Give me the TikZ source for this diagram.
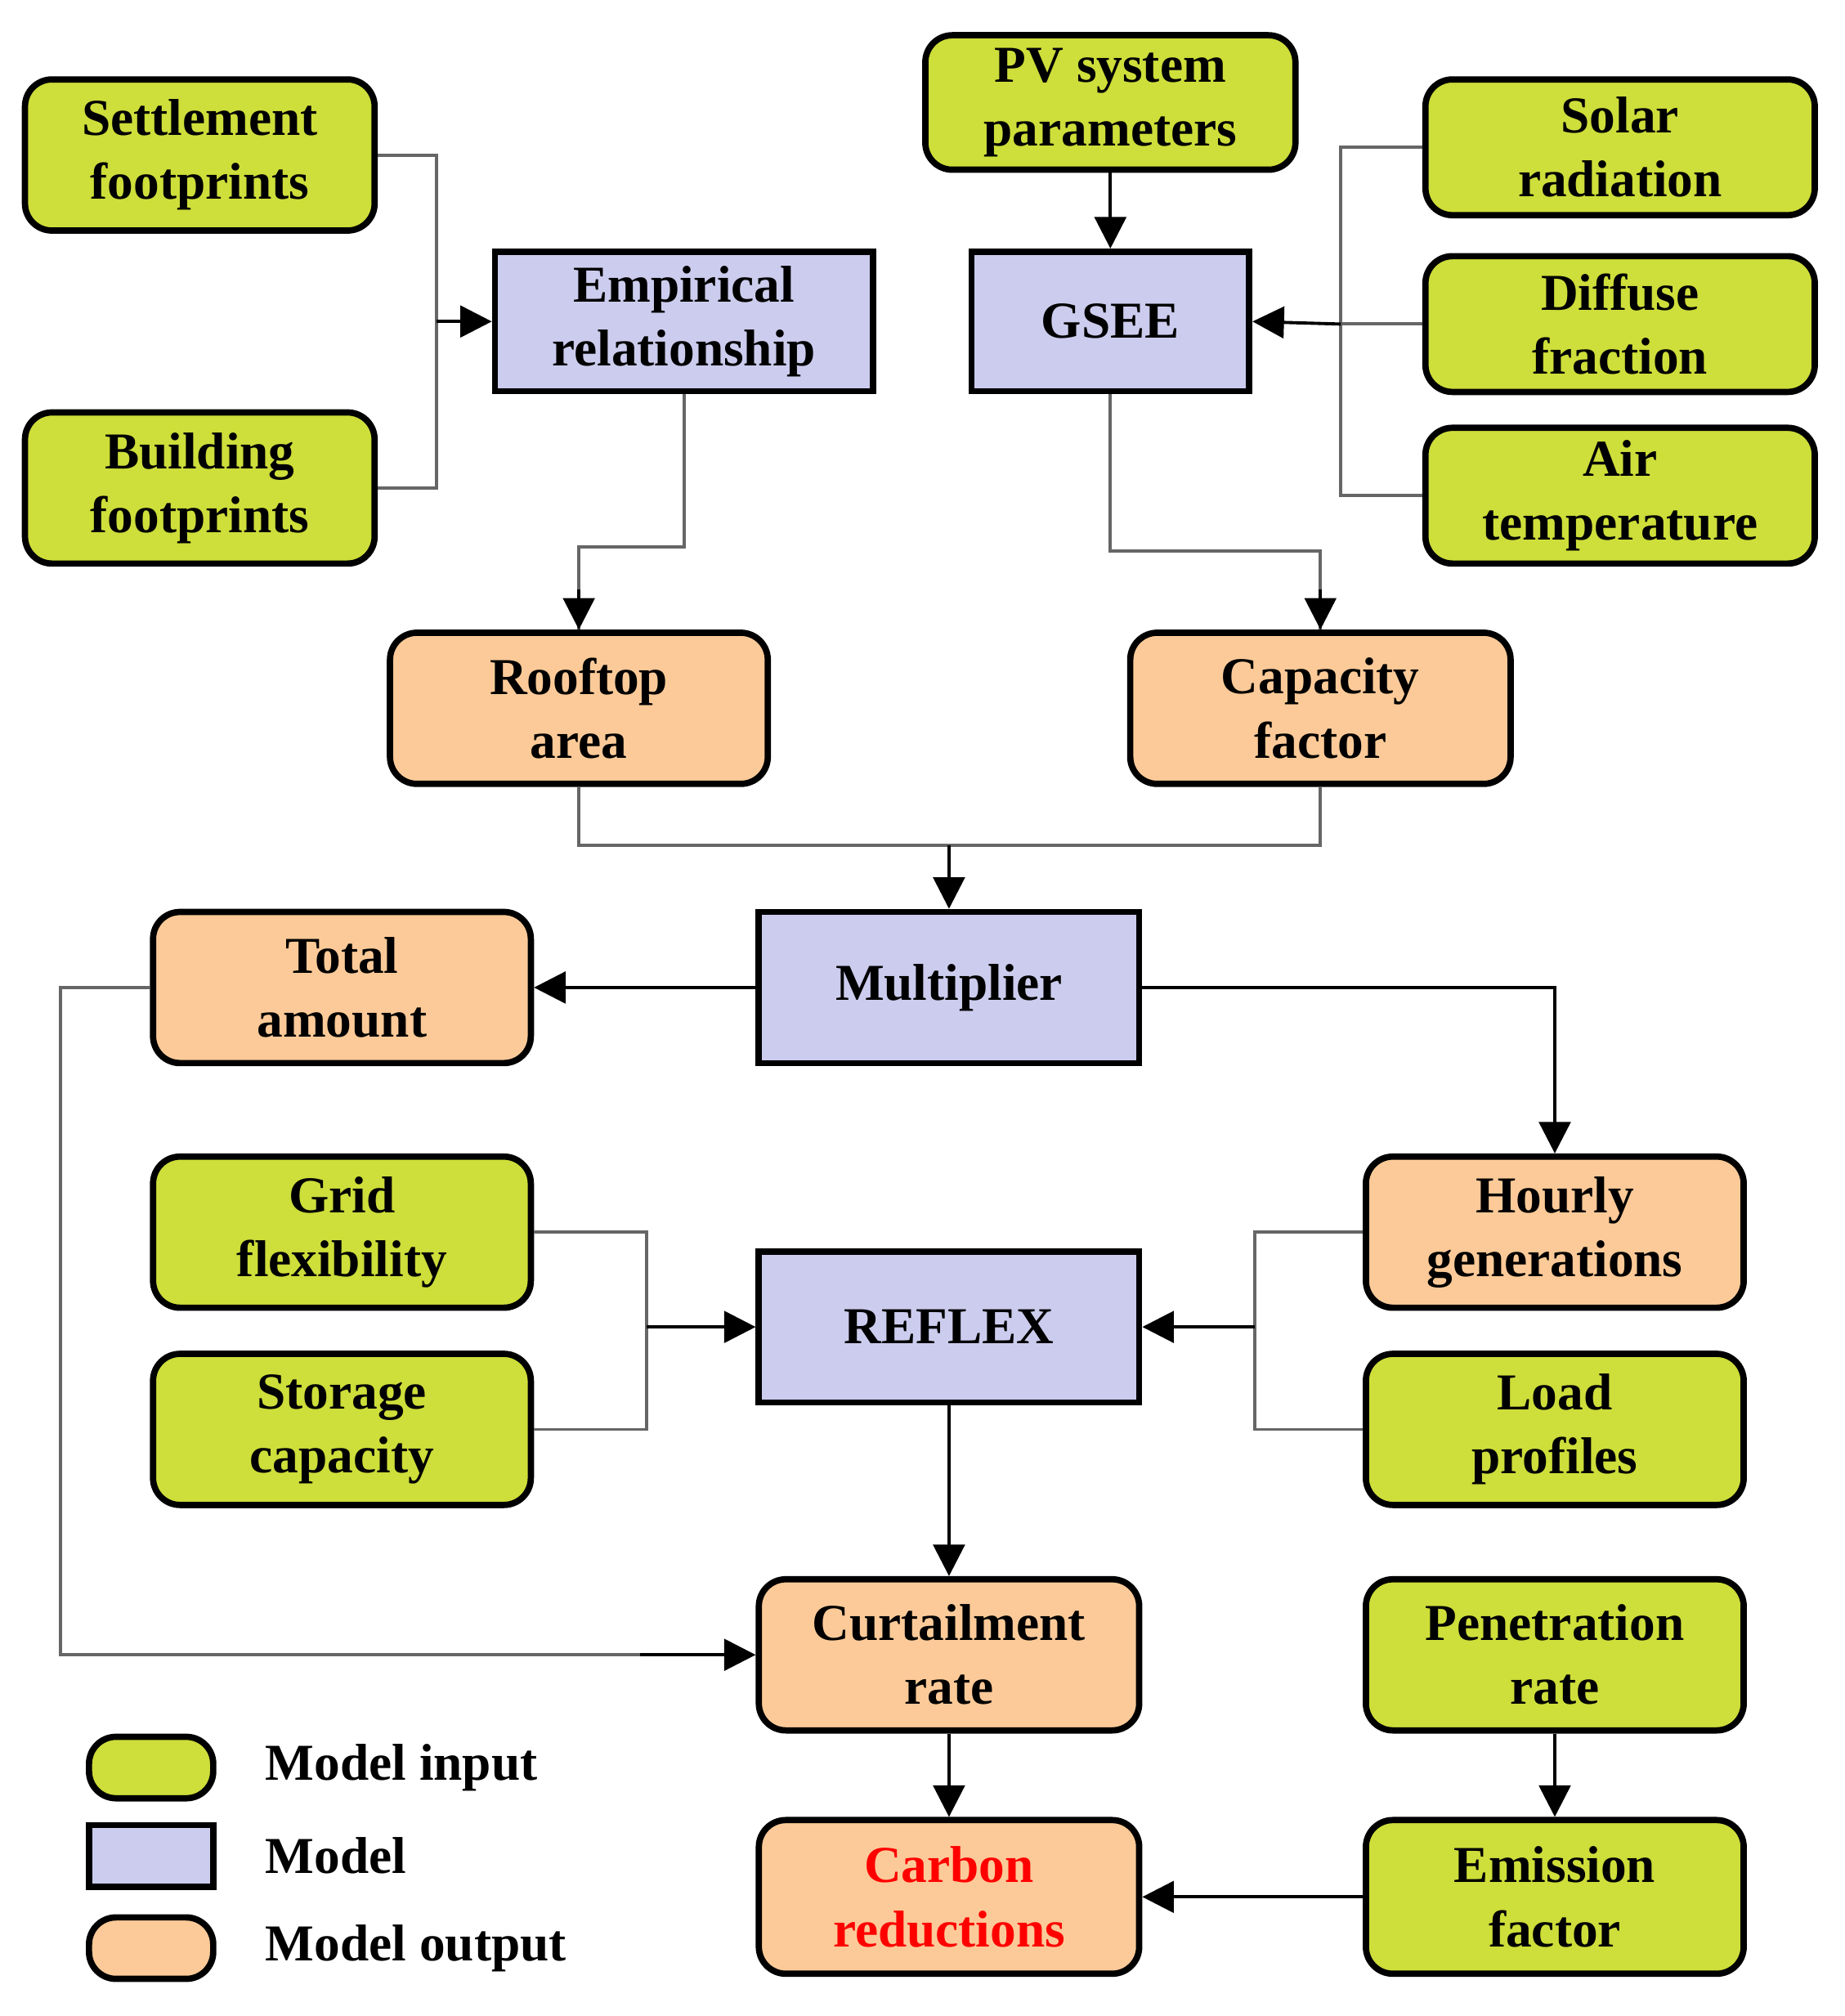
\documentclass[tikz,border=0pt]{standalone}
\usepackage{fontspec}
\setmainfont{Liberation Serif}
\usetikzlibrary{arrows.meta}
\definecolor{ingreen}{RGB}{206,222,58}
\definecolor{modblue}{RGB}{204,204,238}
\definecolor{outorange}{RGB}{252,202,152}
\tikzset{
  box/.style={draw=black, line width=1.4pt, align=center, inner sep=0pt,
    font=\fontsize{11.5}{14.2}\selectfont\bfseries},
  input/.style={box, fill=ingreen, rounded corners=6pt},
  model/.style={box, fill=modblue},
  output/.style={box, fill=outorange, rounded corners=6pt},
  feed/.style={draw=gray!80!black, line width=0.7pt},
  arr/.style={draw=black, line width=0.7pt, -{Triangle[length=7pt,width=7pt]}},
}
\begin{document}
\begin{tikzpicture}[x=0.1mm,y=-0.1mm]
  \useasboundingbox (0,0) rectangle (1440,1574);

  % inputs at the top
  \node[input, minimum width=27.3mm, minimum height=11.8mm] (settle) at (156,121) {Settlement\\footprints};
  \node[input, minimum width=27.3mm, minimum height=11.8mm] (build) at (156,381) {Building\\footprints};
  \node[input, minimum width=28.9mm, minimum height=10.5mm] (pv) at (867,80) {PV system\\parameters};
  \node[input, minimum width=30.4mm, minimum height=10.6mm] (solar) at (1265,115) {Solar\\radiation};
  \node[input, minimum width=30.4mm, minimum height=10.6mm] (diffuse) at (1265,253) {Diffuse\\fraction};
  \node[input, minimum width=30.4mm, minimum height=10.6mm] (air) at (1265,387) {Air\\temperature};

  % models
  \node[model, minimum width=29.5mm, minimum height=10.9mm] (empir) at (534,251) {Empirical\\relationship};
  \node[model, minimum width=21.7mm, minimum height=10.9mm] (gsee) at (867,251) {GSEE};
  \node[model, minimum width=29.7mm, minimum height=11.8mm] (mult) at (741,771) {Multiplier};
  \node[model, minimum width=29.7mm, minimum height=11.8mm] (reflex) at (741,1036) {REFLEX};

  % outputs
  \node[output, minimum width=29.5mm, minimum height=11.8mm] (roof) at (452,553) {Rooftop\\area};
  \node[output, minimum width=29.7mm, minimum height=11.8mm] (capf) at (1031,553) {Capacity\\factor};
  \node[output, minimum width=29.5mm, minimum height=11.8mm] (total) at (267,771) {Total\\amount};
  \node[output, minimum width=29.5mm, minimum height=11.8mm] (hourly) at (1214,962) {Hourly\\generations};
  \node[output, minimum width=29.7mm, minimum height=11.8mm] (curt) at (741,1292) {Curtailment\\rate};
  \node[output, minimum width=29.7mm, minimum height=12mm, text=red] (carbon) at (741,1481) {Carbon\\reductions};

  % lower inputs
  \node[input, minimum width=29.5mm, minimum height=11.8mm] (grid) at (267,962) {Grid\\flexibility};
  \node[input, minimum width=29.5mm, minimum height=11.8mm] (storage) at (267,1116) {Storage\\capacity};
  \node[input, minimum width=29.5mm, minimum height=11.8mm] (load) at (1214,1116) {Load\\profiles};
  \node[input, minimum width=29.5mm, minimum height=11.8mm] (pen) at (1214,1292) {Penetration\\rate};
  \node[input, minimum width=29.5mm, minimum height=12mm] (emis) at (1214,1481) {Emission\\factor};

  % junctions
  \coordinate (j1) at (341,251);
  \coordinate (j2) at (1047,253);
  \coordinate (j3) at (741,660);
  \coordinate (j4) at (505,1036);
  \coordinate (j5) at (980,1036);

  % connectors
  \draw[feed] (settle.east) -| (j1) |- (build.east);
  \draw[arr] (j1) -- (empir.west);
  \draw[arr] (pv) -- (gsee);
  \draw[feed] (solar.west) -| (air.west -| j2) -- (air.west);
  \draw[feed] (diffuse.west) -- (j2);
  \draw[arr] (j2) -- (gsee.east);
  \draw[feed] (empir.south) -- ++(0,119) -| (roof.north);
  \draw[arr] (roof.north |- 0,460) -- (roof.north);
  \draw[feed] (gsee.south) -- ++(0,122) -| (capf.north);
  \draw[arr] (capf.north |- 0,460) -- (capf.north);
  \draw[feed] (roof.south) |- (j3) -| (capf.south);
  \draw[arr] (j3) -- (mult.north);
  \draw[arr] (mult.west) -- (total.east);
  \draw[arr] (mult.east) -| (hourly.north);
  \draw[feed] (grid.east) -| (j4) |- (storage.east);
  \draw[arr] (j4) -- (reflex.west);
  \draw[feed] (hourly.west) -| (j5) |- (load.west);
  \draw[arr] (j5) -- (reflex.east);
  \draw[arr] (reflex) -- (curt);
  \draw[feed] (total.west) -| (47,1292) -- (500,1292);
  \draw[arr] (500,1292) -- (curt.west);
  \draw[arr] (curt) -- (carbon);
  \draw[arr] (pen) -- (emis);
  \draw[arr] (emis) -- (carbon);

  % legend
  \node[input, minimum width=9.7mm, minimum height=4.8mm] (lin) at (118,1380) {};
  \node[model, minimum width=9.7mm, minimum height=4.8mm] (lmod) at (118,1449) {};
  \node[output, minimum width=9.7mm, minimum height=4.8mm] (lout) at (118,1521) {};
  \node[anchor=west, font=\fontsize{11.5}{14.2}\selectfont\bfseries] at (195,1380) {Model input};
  \node[anchor=west, font=\fontsize{11.5}{14.2}\selectfont\bfseries] at (195,1449) {Model};
  \node[anchor=west, font=\fontsize{11.5}{14.2}\selectfont\bfseries] at (195,1521) {Model output};
\end{tikzpicture}
\end{document}
